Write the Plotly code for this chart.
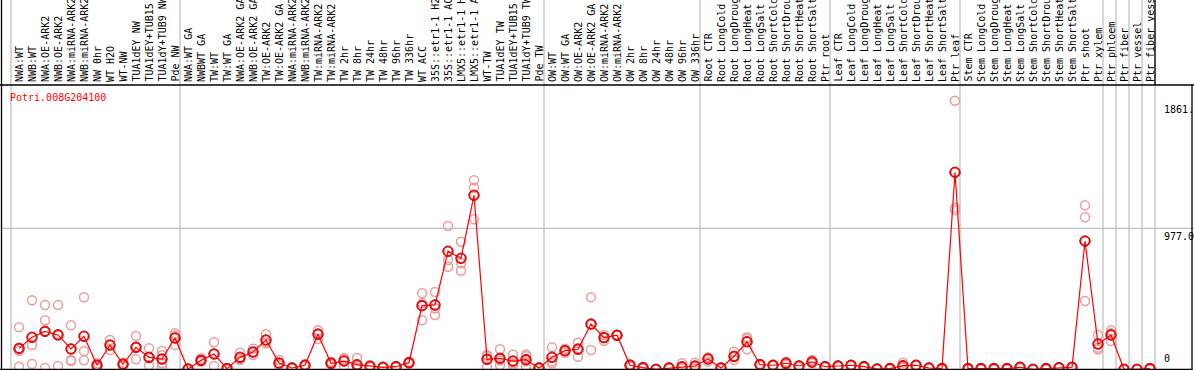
import plotly.graph_objects as go

title_text = "Potri.008G204100"

categories = [
    "NWA:WT", "NWB:WT", "NWA:OE-ARK2", "NWB:OE-ARK2", "NWA:miRNA-ARK2", "NWB:miRNA-ARK2",
    "NW 0hr", "WT H2O", "WT-NW", "TUA1dEY NW", "TUA1dEY+TUB15 NW", "TUA1dY+TUB9 NW", "Pde NW",
    "NWA:WT GA", "NWBWT GA", "TW:WT", "TW:WT GA", "NWA:OE-ARK2 GA", "NWB:OE-ARK2 GA",
    "TW:OE-ARK2", "TW:OE-ARK2 GA", "NWA:miRNA-ARK2 GA", "NWB:miRNA-ARK2 GA", "TW:miRNA-ARK2",
    "TW:miRNA-ARK2 GA", "TW 2hr", "TW 8hr", "TW 24hr", "TW 48hr", "TW 96hr", "TW 336hr",
    "WT ACC", "35S::etr1-1 H2O", "35S::etr1-1 ACC", "LMX5::etr1-1 H2O", "LMX5::etr1-1 ACC",
    "WT-TW", "TUA1dEY TW", "TUA1dEY+TUB15 TW", "TUA1dY+TUB9 TW", "Pde TW",
    "OW:WT", "OW:WT GA", "OW:OE-ARK2", "OW:OE-ARK2 GA", "OW:miRNA-ARK2", "OW:miRNA-ARK2 GA",
    "OW 2hr", "OW 8hr", "OW 24hr", "OW 48hr", "OW 96hr", "OW 336hr",
    "Root CTR", "Root LongCold", "Root LongDrought", "Root LongHeat", "Root LongSalt",
    "Root ShortCold", "Root ShortDrought", "Root ShortHeat", "Root ShortSalt", "Ptr root",
    "Leaf CTR", "Leaf LongCold", "Leaf LongDrought", "Leaf LongHeat", "Leaf LongSalt",
    "Leaf ShortCold", "Leaf ShortDrought", "Leaf ShortHeat", "Leaf ShortSalt", "Ptr leaf",
    "Stem CTR", "Stem LongCold", "Stem LongDrought", "Stem LongHeat", "Stem LongSalt",
    "Stem ShortCold", "Stem ShortDrought", "Stem ShortHeat", "Stem ShortSalt", "Ptr shoot",
    "Ptr xylem", "Ptr phloem", "Ptr fiber", "Ptr vessel", "Ptr fiber vessel",
]

group_sizes = [13, 28, 12, 10, 10, 11, 1, 1, 1, 1]

mean_values = [
    145, 222, 263, 238, 141, 229, 28, 168, 35, 152, 83, 71, 217,
    2, 62, 106, 5, 83, 120, 203, 44, 9, 28, 243, 42, 57, 32, 21, 14, 18, 46,
    441, 446, 818, 769, 1206, 69, 76, 57, 67, 9,
    83, 129, 139, 314, 219, 236, 28, 11, 0, 9, 18, 23,
    71, 9, 90, 191, 32, 28, 42, 23, 51, 18,
    23, 28, 18, 2, 5, 25, 28, 9, 5, 1365,
    5, 5, 5, 5, 14, 0, 5, 11, 14, 889, 175,
    238, 0, 0, 5,
]

replicates = [
    [291, 129, 18], [478, 168, 37], [446, 340, 9], [446, 245, 23], [305, 64, 57],
    [499, 127, 62], [42, 28, 14], [203, 168, 133], [45, 35, 25], [231, 156, 69],
    [145, 76, 28], [127, 97, 42, 14], [249, 234, 168],
    [5, 0, 0], [76, 57, 53], [187, 108, 23], [9, 5, 0], [115, 70, 64], [143, 118, 99],
    [243, 186, 180], [64, 40, 28], [14, 9, 5], [35, 28, 21], [270, 249, 210],
    [53, 42, 32], [78, 70, 23], [78, 18, 0], [28, 21, 14], [18, 14, 9], [23, 18, 14],
    [53, 46, 39], [527, 457, 340], [536, 423, 376], [993, 757, 711], [884, 734, 683],
    [1310, 1258, 1039], [99, 90, 18], [139, 61, 28], [101, 42, 28], [103, 90, 55, 20],
    [14, 9, 5],
    [152, 55, 42], [143, 129, 115], [184, 146, 87], [499, 309, 134], [238, 221, 198],
    [240, 236, 232], [35, 28, 21], [18, 11, 5], [0, 0, 0], [14, 9, 5], [42, 9, 5],
    [46, 18, 5],
    [83, 76, 53], [14, 9, 5], [122, 84, 64], [222, 212, 139], [37, 32, 28],
    [32, 28, 23], [53, 42, 32], [28, 23, 18], [64, 48, 42], [23, 18, 14],
    [28, 23, 18], [32, 28, 23], [23, 18, 14], [5, 2, 0], [9, 5, 0], [46, 18, 11],
    [32, 28, 23], [14, 9, 5], [9, 5, 0], [1861, 1120, 1104],
    [9, 5, 0], [9, 5, 0], [9, 5, 0], [9, 5, 0], [18, 14, 9], [0, 0, 0], [9, 5, 0],
    [14, 11, 9], [18, 14, 9], [1136, 1053, 473], [238, 150, 137],
    [268, 250, 196], [0, 0, 0], [0, 0, 0], [9, 5, 0],
]

axis_labels = ["1861.", "977.0", "0"]
axis_values = [1861, 977, 0]

# ---------- geometry (pixels) ----------
W, H = 1194, 370
px_first = 19.0      # pixel of first category
px_step = 13.0       # pixels per category
y_zero_px = 369.3
y_per_px = 977.0 / 141.0
header_px = 85

x0 = 1 - px_first / px_step
x1 = x0 + W / px_step
y_bottom = -(H - y_zero_px) * y_per_px
y_top = y_zero_px * y_per_px

def px_to_paper_x(p):
    return p / W

def px_to_paper_y(p):
    return 1 - p / H

n = len(categories)
xs = list(range(1, n + 1))

fig = go.Figure()

# replicate points
rx, ry = [], []
for i, reps in enumerate(replicates):
    for v in reps:
        rx.append(i + 1)
        ry.append(v)
fig.add_trace(go.Scatter(
    x=rx, y=ry, mode="markers",
    marker=dict(symbol="circle-open", size=9, color="#eb9c9c", line=dict(width=1.5)),
    hoverinfo="skip", showlegend=False, cliponaxis=False,
))
# mean line
fig.add_trace(go.Scatter(
    x=xs, y=mean_values, mode="lines",
    line=dict(color="#ff0000", width=1.2),
    showlegend=False, hoverinfo="skip", cliponaxis=False,
))
# mean markers: thin dark outline + red ring
fig.add_trace(go.Scatter(
    x=xs, y=mean_values, mode="markers",
    marker=dict(symbol="circle-open", size=10.5, color="#600000", line=dict(width=0.8)),
    showlegend=False, hoverinfo="skip", cliponaxis=False,
))
fig.add_trace(go.Scatter(
    x=xs, y=mean_values, mode="markers",
    marker=dict(symbol="circle-open", size=9, color="#ff0000", line=dict(width=1.6)),
    showlegend=False, hoverinfo="skip", cliponaxis=False,
))

shapes = []
# group separators
k = 0
seps = [0]
for g in group_sizes:
    k += g
    seps.append(k)
for s in seps:
    xv = s + 1 - 8.0 / px_step
    shapes.append(dict(type="line", xref="x", yref="paper", x0=xv, x1=xv, y0=0, y1=1,
                       line=dict(color="#c0c0c0", width=1.3), layer="below"))
# horizontal grid at 977
shapes.append(dict(type="line", xref="paper", yref="y", x0=px_to_paper_x(1), x1=1,
                   y0=977, y1=977, line=dict(color="#c0c0c0", width=1.3), layer="below"))
# frame lines
black = dict(color="#000000", width=1.3)
shapes.append(dict(type="line", xref="paper", yref="paper", x0=px_to_paper_x(1.5), x1=px_to_paper_x(1.5),
                   y0=0, y1=1, line=black))
shapes.append(dict(type="line", xref="paper", yref="paper", x0=0, x1=1,
                   y0=px_to_paper_y(header_px), y1=px_to_paper_y(header_px), line=black))
shapes.append(dict(type="line", xref="paper", yref="paper", x0=0, x1=px_to_paper_x(1192.5),
                   y0=px_to_paper_y(369.5), y1=px_to_paper_y(369.5), line=black))
shapes.append(dict(type="line", xref="paper", yref="paper", x0=px_to_paper_x(1192), x1=px_to_paper_x(1192),
                   y0=0, y1=px_to_paper_y(header_px), line=black))
last_sep = seps[-1] + 1 - 8.0 / px_step
shapes.append(dict(type="line", xref="x", yref="paper", x0=last_sep, x1=last_sep,
                   y0=px_to_paper_y(header_px), y1=1, line=black))

annotations = []
mono = "DejaVu Sans Mono"
for i, lab in enumerate(categories):
    annotations.append(dict(
        x=i + 1, xref="x", y=px_to_paper_y(84), yref="paper",
        text=lab, textangle=-90, showarrow=False,
        xanchor="center", yanchor="bottom",
        font=dict(family=mono, size=10, color="#000000"),
    ))
annotations.append(dict(
    x=px_to_paper_x(8), xref="paper", y=px_to_paper_y(97), yref="paper",
    text=title_text, showarrow=False, xanchor="left", yanchor="middle",
    font=dict(family=mono, size=10, color="#ff0000"),
))
for lab, v in zip(axis_labels, axis_values):
    annotations.append(dict(
        x=px_to_paper_x(1162), xref="paper", y=v, yref="y",
        text=lab, showarrow=False, xanchor="left",
        yanchor="bottom" if v == 0 else "top", yshift=3 if v == 0 else -1,
        font=dict(family=mono, size=10, color="#000000"),
    ))

fig.update_layout(
    width=W, height=H,
    margin=dict(l=0, r=0, t=0, b=0),
    paper_bgcolor="#ffffff", plot_bgcolor="#ffffff",
    xaxis=dict(range=[x0, x1], visible=False, fixedrange=True),
    yaxis=dict(range=[y_bottom, y_top], visible=False, fixedrange=True),
    shapes=shapes, annotations=annotations,
    showlegend=False,
)

fig.write_html(
    "out.html",
    config={"displayModeBar": False},
    post_script="document.body.style.margin='0';document.body.style.overflow='hidden';",
)
